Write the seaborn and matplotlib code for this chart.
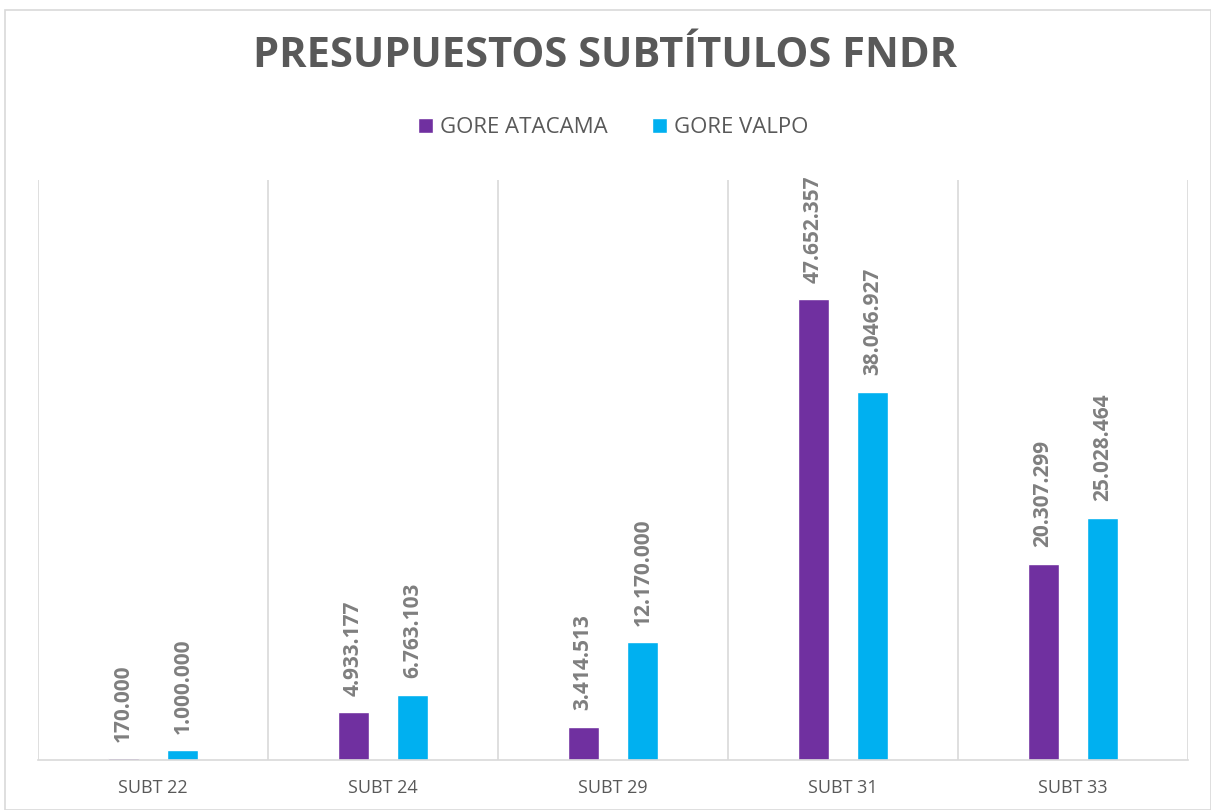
import numpy as np
import pandas as pd
import matplotlib
matplotlib.use("Agg")
import matplotlib.pyplot as plt
import seaborn as sns
from matplotlib.patches import Rectangle
from matplotlib.ticker import FixedLocator

# -----------------------------
# data
# -----------------------------
subtitulos = ["SUBT 22", "SUBT 24", "SUBT 29", "SUBT 31", "SUBT 33"]
gore_atacama = [170000, 4933177, 3414513, 47652357, 20307299]
gore_valpo = [1000000, 6763103, 12170000, 38046927, 25028464]
series = ["GORE ATACAMA", "GORE VALPO"]
colores = ["#7030A0", "#00B0F0"]

df = pd.DataFrame({
    "subt": subtitulos * 2,
    "serie": [series[0]] * 5 + [series[1]] * 5,
    "monto": gore_atacama + gore_valpo,
})

# -----------------------------
# plot
# -----------------------------
sns.set_theme(style="white")
plt.rcParams["font.family"] = ["Open Sans", "DejaVu Sans"]
gris = "#595959"
gris_claro = "#7F7F7F"

fig = plt.figure(figsize=(12.11, 8.10), dpi=100)
ax = fig.add_axes([0.0314, 0.0617, 0.9496, 0.7163])

sns.barplot(data=df, x="subt", y="monto", hue="serie", palette=colores,
            width=0.52, gap=0.48, ax=ax, legend=True, saturation=1)

# data labels, rotated, dot as thousands separator
for cont in ax.containers:
    ax.bar_label(cont, labels=[f"{v:,.0f}".replace(",", ".") for v in cont.datavalues],
                 rotation=90, padding=12, fontsize=15, fontweight="bold", color=gris_claro)

ax.set_ylim(0, 60000000)
ax.set_xlim(-0.5, 4.5)
ax.set_yticks([])
ax.set_xlabel("")
ax.set_ylabel("")

# category separators
ax.xaxis.set_minor_locator(FixedLocator(np.arange(-0.5, 5, 1)))
ax.grid(which="minor", axis="x", color="#D9D9D9", linewidth=1.2)
ax.tick_params(axis="x", which="both", length=0, pad=14)
for lab in ax.get_xticklabels():
    lab.set_fontsize(13)
    lab.set_color(gris)

for s in ["top", "left", "right"]:
    ax.spines[s].set_visible(False)
ax.spines["bottom"].set_color("#D9D9D9")
ax.spines["bottom"].set_linewidth(1.2)

ax.legend(loc="center", bbox_to_anchor=(0.5, 1.09), ncol=2, frameon=False,
          fontsize=16, labelcolor=gris, handlelength=0.7, handleheight=0.7,
          handletextpad=0.3, columnspacing=2.0)

fig.text(0.5, 0.93, "PRESUPUESTOS SUBTÍTULOS FNDR", ha="center", va="center",
         fontsize=30, fontweight="bold", color=gris)

# outer chart border
fig.patches.append(Rectangle((0.004, 0.0), 0.996, 0.988, transform=fig.transFigure,
                             fill=False, edgecolor="#D9D9D9", linewidth=1.2))

fig.savefig("out.png", dpi=100)
